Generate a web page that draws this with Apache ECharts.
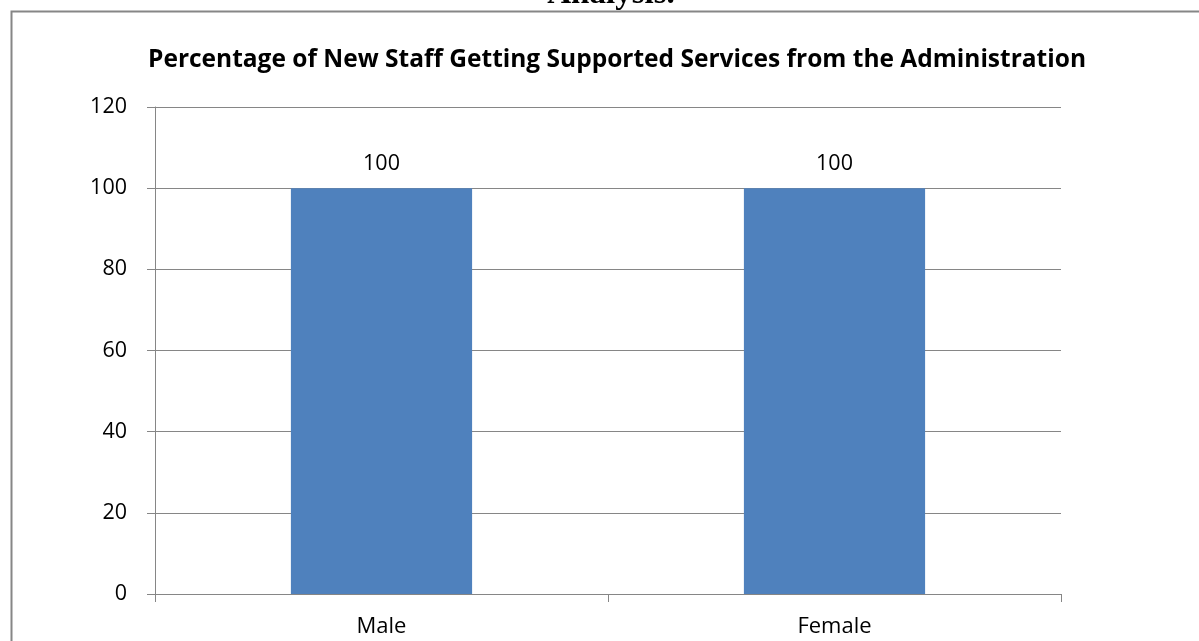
<!DOCTYPE html>
<html>
<head>
<meta charset="utf-8">
<script src="https://cdn.jsdelivr.net/npm/echarts@6/dist/echarts.min.js"></script>
<style>html,body{margin:0;padding:0;background:#fff}#c{width:1199px;height:641px}</style>
</head>
<body>
<div id="c"></div>
<script>
const categories = ['Male', 'Female'];
const values = [100, 100];
const yTicks = [0, 20, 40, 60, 80, 100, 120];
const titleText = 'Percentage of New Staff Getting Supported Services from the Administration';
const headerText = 'Analysis.';

const chart = echarts.init(document.getElementById('c'), null, {renderer: 'canvas'});
const gray = '#868686';
chart.setOption({
  animation: false,
  backgroundColor: '#fff',
  title: {
    text: titleText, left: 612, top: 43, textAlign: 'center',
    textStyle: {fontFamily: 'Open Sans', fontWeight: 'bold', fontSize: 24.5, color: '#000'}
  },
  graphic: [
    {type: 'rect', shape: {x: 11.5, y: 11.5, width: 1200, height: 700}, style: {fill: 'none', stroke: gray, lineWidth: 2}, silent: true},
    {type: 'text', style: {text: headerText, x: 611, y: 11, align: 'center', verticalAlign: 'bottom', font: 'bold 33px "Liberation Serif"', fill: '#000'}}
  ],
  grid: {left: 155, right: 138, top: 107, bottom: 47, containLabel: false},
  xAxis: {
    type: 'category', data: categories,
    axisLine: {lineStyle: {color: gray, width: 1}},
    axisTick: {show: true, length: 8, lineStyle: {color: gray}},
    axisLabel: {fontFamily: 'Open Sans', fontSize: 22, color: '#000', margin: 22}
  },
  yAxis: {
    type: 'value', min: yTicks[0], max: yTicks[yTicks.length - 1], interval: 20,
    axisLine: {show: true, lineStyle: {color: gray, width: 1}},
    axisTick: {show: true, length: 8, lineStyle: {color: gray}},
    splitLine: {show: true, lineStyle: {color: gray, width: 1}},
    axisLabel: {fontFamily: 'Open Sans', fontSize: 21.5, color: '#000', margin: 28}
  },
  series: [{
    type: 'bar', data: values, barWidth: '40%',
    itemStyle: {color: '#4F81BD'},
    label: {show: true, position: 'top', distance: 13, fontFamily: 'Open Sans', fontSize: 21.5, color: '#000'}
  }]
});
</script>
</body>
</html>
